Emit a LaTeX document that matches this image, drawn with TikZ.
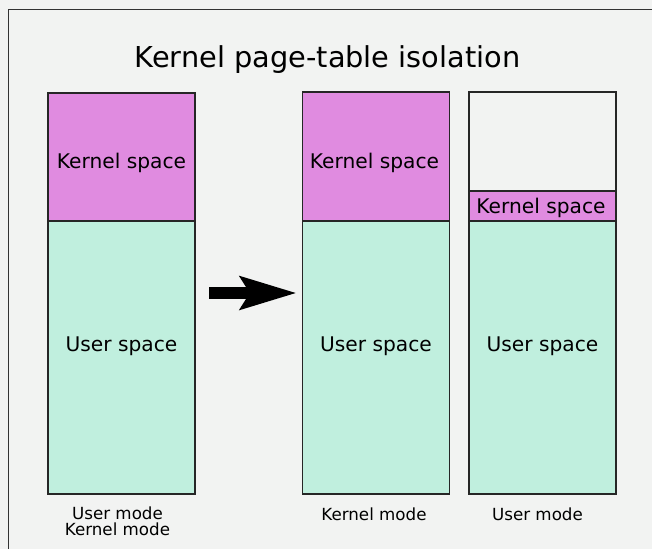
\documentclass[tikz,border=0pt]{standalone}
\usepackage{fontspec}
\setmainfont{DejaVu Sans}
\usetikzlibrary{arrows.meta}
\definecolor{bggray}{HTML}{F2F3F2}
\definecolor{kpink}{HTML}{E08BE0}
\definecolor{umint}{HTML}{C0EFDE}
\tikzset{
  frame/.style={draw=black!85, line width=1.2pt, inner sep=0pt, minimum width=147pt},
  kbox/.style={frame, fill=kpink},
  ubox/.style={frame, fill=umint},
  big/.style={font=\fontsize{20.2}{24}\selectfont},
  small/.style={font=\fontsize{16.7}{16}\selectfont, align=center}
}
\begin{document}
\begin{tikzpicture}[x=1pt,y=-1pt]
\fill[bggray] (0,0) rectangle (652,549);
\useasboundingbox (0,0) rectangle (652,549);
\draw[line width=1pt, black!80] (8,549) -- (8,9) -- (652,9);

\node[font=\fontsize{28.8}{34}\selectfont] (title) at (327.5,59.5) {Kernel page-table isolation};

% user part of each page table
\foreach \x/\n in {121.5/1, 376/2, 542.5/3} {
  \node[ubox, minimum height=273pt] (u\n) at (\x,357.5) {};
  \node[big] (ut\n) at (\x,346.5) {User space};
}

\node[kbox, minimum height=128pt] (k1) at (121.5,157) {};
\node[big] (kt1) at (121.5,163) {Kernel space};
\node[kbox, minimum height=129pt] (k2) at (376,156.5) {};
\node[big] (kt2) at (374.5,162.5) {Kernel space};
\node[frame, minimum height=99pt] (e3) at (542.5,141.5) {};
\node[kbox, minimum height=30pt] (k3) at (542.5,206) {};
\node[big] (kt3) at (541,208) {Kernel space};

\node[small] (m1) at (117.5,521) {User mode\\Kernel mode};
\node[small] (m2) at (374,514.5) {Kernel mode};
\node[small] (m3) at (537.5,514.5) {User mode};

\coordinate (a0) at (209,293);
\coordinate (a1) at (297,293);
\draw[line width=12pt, -{Stealth[length=56pt, width=32pt, inset=9pt]}] (a0) -- (a1);
\end{tikzpicture}
\end{document}
